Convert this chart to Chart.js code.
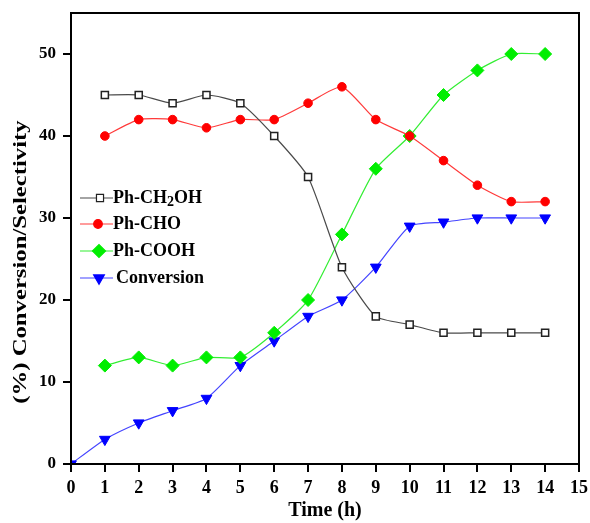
<!DOCTYPE html>
<html>
<head>
<meta charset="utf-8">
<script src="https://cdn.jsdelivr.net/npm/chart.js@4"></script>
<style>
    html, body { margin: 0; padding: 0; background: #fff; }
    #wrap { width: 590px; height: 523px; }
</style>
</head>
<body>
<div id="wrap"><canvas id="myChart"></canvas></div>
<script>
let hours = [0, 1, 2, 3, 4, 5, 6, 7, 8, 9, 10, 11, 12, 13, 14];
let alcohol = [null, 45, 45, 44, 45, 44, 40, 35, 24, 18, 17, 16, 16, 16, 16];
let aldehyde = [null, 40, 42, 42, 41, 42, 42, 44, 46, 42, 40, 37, 34, 32, 32];
let acid = [null, 12, 13, 12, 13, 13, 16, 20, 28, 36, 40, 45, 48, 50, 50];
let conversion = [0, 3, 5, 6.5, 8, 12, 15, 18, 20, 24, 29, 29.5, 30, 30, 30];
let xTicks = [0, 1, 2, 3, 4, 5, 6, 7, 8, 9, 10, 11, 12, 13, 14, 15];
let yTicks = [0, 10, 20, 30, 40, 50];
// legend labels, [main, subscript, rest]
let labels = [['Ph-CH', '2', 'OH'], ['Ph-CHO', '', ''], ['Ph-COOH', '', ''], ['Conversion', '', '']];
let xTitle = 'Time (h)';
let yTitle = '(%) Conversion/Selectivity';

let font = "'Liberation Serif', 'DejaVu Serif', serif";

const toPoints = (arr) => {
    let out = [];
    for (let i = 0; i < hours.length; i++) {
        if (arr[i] !== null) out.push({x: hours[i], y: arr[i]});
    }
    return out;
}

let styles = [
    {line: '#4a4a4a', fill: '#ffffff', border: '#222222', pointStyle: 'rect', radius: 5, rotation: 0, bw: 1.5},
    {line: '#ff3a3a', fill: '#ff0000', border: '#ff0000', pointStyle: 'circle', radius: 4.3, rotation: 0, bw: 1},
    {line: '#33ee33', fill: '#00ee00', border: '#00ee00', pointStyle: 'rectRot', radius: 6.5, rotation: 0, bw: 1},
    {line: '#4444ff', fill: '#0000ff', border: '#0000ff', pointStyle: 'triangle', radius: 6.2, rotation: 180, bw: 1},
];
let series = [alcohol, aldehyde, acid, conversion];

let datasets = [];
for (let i = 0; i < series.length; i++) {
    let s = styles[i];
    datasets.push({
        label: labels[i].join(''),
        data: toPoints(series[i]),
        borderColor: s.line,
        borderWidth: 1.2,
        backgroundColor: s.fill,
        pointBackgroundColor: s.fill,
        pointBorderColor: s.border,
        pointBorderWidth: s.bw,
        pointStyle: s.pointStyle,
        pointRadius: s.radius,
        pointRotation: s.rotation,
        tension: 0.2,
    });
}

const noPad = (scale) => {
    scale.paddingTop = 0;
    scale.paddingBottom = 0;
    scale.paddingLeft = 0;
    scale.paddingRight = 0;
}

// frame box, y title and legend with line and marker
const framePlugin = {
    id: 'frame',
    afterDraw(chart) {
        let ctx = chart.ctx;
        let a = chart.chartArea;
        ctx.save();
        ctx.strokeStyle = '#000';
        ctx.lineWidth = 2;
        ctx.strokeRect(a.left, a.top, a.right - a.left, a.bottom - a.top);

        // y title, stretched like the original
        ctx.save();
        ctx.translate(21, 262);
        ctx.rotate(-Math.PI / 2);
        ctx.scale(1.3, 1);
        ctx.fillStyle = '#000';
        ctx.font = 'bold 19px ' + font;
        ctx.textAlign = 'center';
        ctx.textBaseline = 'middle';
        ctx.fillText(yTitle, 0, 0);
        ctx.restore();

        let rows = [198, 224, 251, 278];
        let markX = [100, 98, 99, 99];
        for (let i = 0; i < labels.length; i++) {
            let s = styles[i];
            let y = rows[i];
            ctx.strokeStyle = s.line;
            ctx.lineWidth = 1.2;
            ctx.beginPath();
            ctx.moveTo(80, y);
            ctx.lineTo(113, y);
            ctx.stroke();
            ctx.fillStyle = s.fill;
            ctx.strokeStyle = s.border;
            Chart.helpers.drawPoint(ctx, {
                pointStyle: s.pointStyle,
                radius: s.radius,
                rotation: s.rotation,
                borderWidth: s.bw,
            }, markX[i], y);
            ctx.fillStyle = '#000';
            ctx.textBaseline = 'middle';
            ctx.textAlign = 'left';
            let x = i === 3 ? 116 : 113;
            ctx.font = 'bold 18px ' + font;
            ctx.fillText(labels[i][0], x, y);
            x += ctx.measureText(labels[i][0]).width;
            if (labels[i][1]) {
                ctx.font = 'bold 14px ' + font;
                ctx.fillText(labels[i][1], x, y + 4);
                x += ctx.measureText(labels[i][1]).width;
                ctx.font = 'bold 18px ' + font;
                ctx.fillText(labels[i][2], x, y);
            }
        }
        ctx.restore();
    }
}

let ctx = document.getElementById('myChart').getContext('2d');
let myChart = new Chart(ctx, {
    type: 'line',
    data: {datasets: datasets},
    options: {
        responsive: true,
        maintainAspectRatio: false,
        animation: false,
        layout: {padding: {left: 0, right: 11, top: 13, bottom: 0}},
        plugins: {
            legend: {display: false},
            tooltip: {enabled: false},
        },
        scales: {
            x: {
                type: 'linear',
                min: 0,
                max: 15,
                afterBuildTicks: (scale) => { scale.ticks = xTicks.map(v => ({value: v})); },
                afterFit: (scale) => { scale.height = 59; noPad(scale); },
                grid: {display: true, drawOnChartArea: false, drawTicks: true, tickLength: 8, color: '#000', lineWidth: 2},
                border: {display: true, color: '#000', width: 2},
                ticks: {color: '#000', font: {family: font, size: 18, weight: 'bold'}, padding: 6, maxRotation: 0, autoSkip: false},
                title: {display: true, text: xTitle, color: '#000', font: {family: font, size: 20, weight: 'bold'}, padding: {top: 0, bottom: 0}},
            },
            y: {
                min: 0,
                max: 55,
                afterBuildTicks: (scale) => { scale.ticks = yTicks.map(v => ({value: v})); },
                afterFit: (scale) => { scale.width = 71; noPad(scale); },
                grid: {display: true, drawOnChartArea: false, drawTicks: true, tickLength: 8, color: '#000', lineWidth: 2},
                border: {display: true, color: '#000', width: 2},
                ticks: {color: '#000', font: {family: font, size: 17, weight: 'bold'}, padding: 7},
            },
        },
    },
    plugins: [framePlugin],
});
</script>
</body>
</html>
